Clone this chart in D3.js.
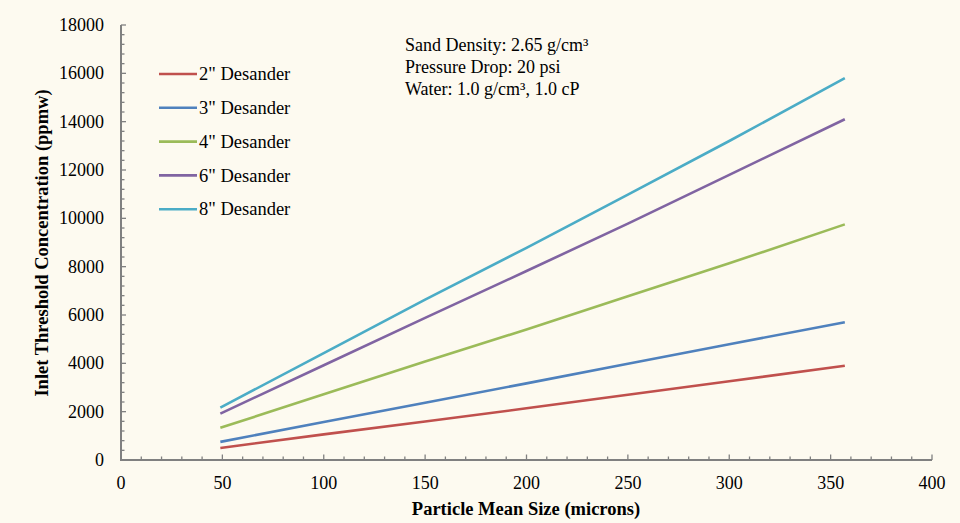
<!DOCTYPE html>
<html>
<head>
<meta charset="utf-8">
<script src="https://cdn.jsdelivr.net/npm/d3@7"></script>
<style>
  body { margin: 0; background: #fdfaf0; }
  svg { display: block; font-family: "Liberation Serif", "Times New Roman", serif; }
</style>
</head>
<body>
<svg id="chart" width="960" height="523"></svg>
<script>
// particle mean size (microns)
const sizes = [49, 100, 150, 200, 250, 300, 357];

const seriesNames = ['2" Desander', '3" Desander', '4" Desander', '6" Desander', '8" Desander'];
const seriesColors = ["#c0504d", "#4f81bd", "#9bbb59", "#8064a2", "#4bacc6"];

// inlet threshold concentration (ppmw)
const desander2 = [500, 1060, 1590, 2140, 2700, 3260, 3900];
const desander3 = [750, 1570, 2370, 3170, 3980, 4790, 5700];
const desander4 = [1330, 2720, 4080, 5400, 6780, 8140, 9750];
const desander6 = [1920, 3920, 5880, 7820, 9780, 11800, 14100];
const desander8 = [2170, 4420, 6640, 8780, 10980, 13200, 15800];
const seriesValues = [desander2, desander3, desander4, desander6, desander8];

const xTicks = [0, 50, 100, 150, 200, 250, 300, 350, 400];
const yTicks = [0, 2000, 4000, 6000, 8000, 10000, 12000, 14000, 16000, 18000];

const notes = ["Sand Density: 2.65 g/cm³", "Pressure Drop: 20 psi", "Water: 1.0 g/cm³, 1.0 cP"];

const svg = d3.select("#chart");
const axisColor = "#808080";

const x = d3.scaleLinear().domain([0, 400]).range([121, 932]);
const y = d3.scaleLinear().domain([0, 18000]).range([460, 25]);

// minor ticks
const gx = svg.append("g");
gx.selectAll("line.minor")
  .data(d3.range(0, 401, 10))
  .enter()
  .append("line")
  .attr("x1", (d) => x(d))
  .attr("x2", (d) => x(d))
  .attr("y1", y(0))
  .attr("y2", (d) => (d % 50 === 0 ? y(0) - 5.5 : y(0) - 3.5))
  .attr("stroke", axisColor)
  .attr("stroke-width", 1.3);

const gy = svg.append("g");
gy.selectAll("line.minor")
  .data(d3.range(0, 18001, 400))
  .enter()
  .append("line")
  .attr("x1", x(0))
  .attr("x2", (d) => (d % 2000 === 0 ? x(0) + 5 : x(0) + 3.5))
  .attr("y1", (d) => y(d))
  .attr("y2", (d) => y(d))
  .attr("stroke", axisColor)
  .attr("stroke-width", 1.3);

// axis lines
svg.append("line")
  .attr("x1", x(0)).attr("x2", x(400))
  .attr("y1", y(0)).attr("y2", y(0))
  .attr("stroke", axisColor).attr("stroke-width", 2);
svg.append("line")
  .attr("x1", x(0)).attr("x2", x(0))
  .attr("y1", y(0) + 1).attr("y2", y(18000))
  .attr("stroke", axisColor).attr("stroke-width", 2);

// tick labels
svg.append("g")
  .selectAll("text")
  .data(xTicks)
  .enter()
  .append("text")
  .attr("x", (d) => x(d))
  .attr("y", 489)
  .attr("text-anchor", "middle")
  .attr("font-size", 18)
  .text((d) => d);

svg.append("g")
  .selectAll("text")
  .data(yTicks)
  .enter()
  .append("text")
  .attr("x", 104)
  .attr("y", (d) => y(d))
  .attr("dy", "0.33em")
  .attr("text-anchor", "end")
  .attr("font-size", 18)
  .text((d) => d);

// axis titles
svg.append("text")
  .attr("x", 526)
  .attr("y", 515)
  .attr("text-anchor", "middle")
  .attr("font-size", 18.5)
  .attr("font-weight", "bold")
  .text("Particle Mean Size (microns)");

svg.append("text")
  .attr("transform", "translate(48,243) rotate(-90)")
  .attr("text-anchor", "middle")
  .attr("font-size", 18.5)
  .attr("font-weight", "bold")
  .text("Inlet Threshold Concentration (ppmw)");

// lines
const line = d3
  .line()
  .x((d, i) => x(sizes[i]))
  .y((d) => y(d));

svg.append("g")
  .selectAll("path")
  .data(seriesValues)
  .enter()
  .append("path")
  .attr("d", line)
  .attr("fill", "none")
  .attr("stroke", (d, i) => seriesColors[i])
  .attr("stroke-width", 2.6);

// legend
const legend = svg.append("g");
const entry = legend
  .selectAll("g")
  .data(seriesNames)
  .enter()
  .append("g")
  .attr("transform", (d, i) => "translate(0," + (74 + i * 33.8) + ")");
entry.append("line")
  .attr("x1", 159).attr("x2", 197)
  .attr("y1", 0).attr("y2", 0)
  .attr("stroke", (d, i) => seriesColors[i])
  .attr("stroke-width", 2.6);
entry.append("text")
  .attr("x", 199)
  .attr("y", 0)
  .attr("dy", "0.33em")
  .attr("font-size", 18.5)
  .text((d) => d);

// notes
svg.append("g")
  .selectAll("text")
  .data(notes)
  .enter()
  .append("text")
  .attr("x", 405)
  .attr("y", (d, i) => 51 + i * 22)
  .attr("font-size", 18)
  .text((d) => d);
</script>
</body>
</html>
